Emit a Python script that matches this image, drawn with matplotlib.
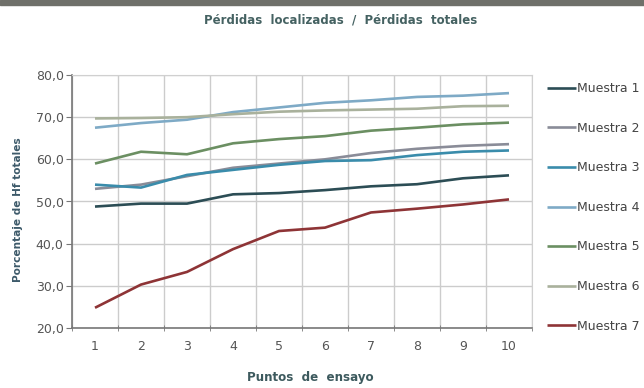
import matplotlib
matplotlib.use("Agg")
import matplotlib.pyplot as plt
from matplotlib.patches import Rectangle
from matplotlib.ticker import FuncFormatter

puntos = [1, 2, 3, 4, 5, 6, 7, 8, 9, 10]
series_names = ["Muestra 1", "Muestra 2", "Muestra 3", "Muestra 4",
                "Muestra 5", "Muestra 6", "Muestra 7"]
muestra1 = [48.8, 49.5, 49.5, 51.7, 52.0, 52.7, 53.6, 54.1, 55.5, 56.2]
muestra2 = [53.0, 54.0, 56.0, 58.0, 59.0, 60.0, 61.5, 62.5, 63.2, 63.6]
muestra3 = [54.0, 53.3, 56.3, 57.5, 58.7, 59.6, 59.8, 61.0, 61.8, 62.1]
muestra4 = [67.5, 68.6, 69.4, 71.2, 72.3, 73.4, 74.0, 74.8, 75.1, 75.7]
muestra5 = [59.0, 61.8, 61.2, 63.8, 64.8, 65.5, 66.8, 67.5, 68.3, 68.7]
muestra6 = [69.7, 69.8, 70.0, 70.7, 71.3, 71.6, 71.8, 72.0, 72.6, 72.7]
muestra7 = [24.8, 30.3, 33.3, 38.7, 43.0, 43.8, 47.4, 48.3, 49.3, 50.5]
values = [muestra1, muestra2, muestra3, muestra4, muestra5, muestra6, muestra7]
colors = ["#2c4d55", "#8a8c98", "#3a8cab", "#7eaac6", "#6b8f62", "#a9b19c", "#8e3436"]

plt.rcParams['font.family'] = ['DejaVu Sans']

fig = plt.figure(figsize=(6.44, 3.88), dpi=100)
ax = fig.add_axes([72/644, 1-328/388, 460/644, 253/388])

for name, vals, c in zip(series_names, values, colors):
    ax.plot(puntos, vals, color=c, lw=1.9, label=name, solid_capstyle='butt')

ax.set_xlim(0.5, 10.5)
ax.set_ylim(20, 80)
ax.set_yticks([20, 30, 40, 50, 60, 70, 80])
ax.yaxis.set_major_formatter(FuncFormatter(lambda v, p: f"{v:.1f}".replace('.', ',')))
ax.set_xticks(puntos)
ax.set_xticks([i + 0.5 for i in range(0, 11)], minor=True)
ax.tick_params(axis='x', which='major', length=0, pad=9, labelsize=9, labelcolor='#555555')
ax.tick_params(axis='x', which='minor', length=4, color='#777777', direction='inout')
ax.tick_params(axis='y', which='major', length=4, color='#777777', labelsize=9,
               labelcolor='#555555', pad=2)
ax.grid(True, axis='y', which='major', color='#cccccc', lw=1.0)
ax.grid(True, axis='x', which='minor', color='#cccccc', lw=1.0)
ax.set_axisbelow(True)
for s in ['top', 'right']:
    ax.spines[s].set_color('#d0d0d0')
for s in ['left', 'bottom']:
    ax.spines[s].set_color('#777777')
    ax.spines[s].set_linewidth(1.2)

fig.text(18/644, 1-210/388, "Porcentaje de Hf totales", rotation=90, ha='center', va='center',
         fontsize=7.6, fontweight='bold', color='#3d5a6a')
fig.text(310/644, 1-378/388, "Puntos  de  ensayo", ha='center', va='center',
         fontsize=8.6, fontweight='bold', color='#3d5a5e')

fig.text(341/644, 1-20/388, "Pérdidas  localizadas  /  Pérdidas  totales", ha='center', va='center',
         fontsize=8.5, fontweight='bold', color='#456262')

fig.patches.append(Rectangle((0, 1-5/388), 1, 5/388, transform=fig.transFigure,
                             color='#6f706a', zorder=5))

fig.legend(loc='upper left', bbox_to_anchor=(547/644, 1-82/388), frameon=False,
           fontsize=9, handlelength=2.3, handletextpad=0.1, labelspacing=2.13,
           labelcolor='#444444', borderaxespad=0, borderpad=0)

fig.savefig("out.png", dpi=100)
